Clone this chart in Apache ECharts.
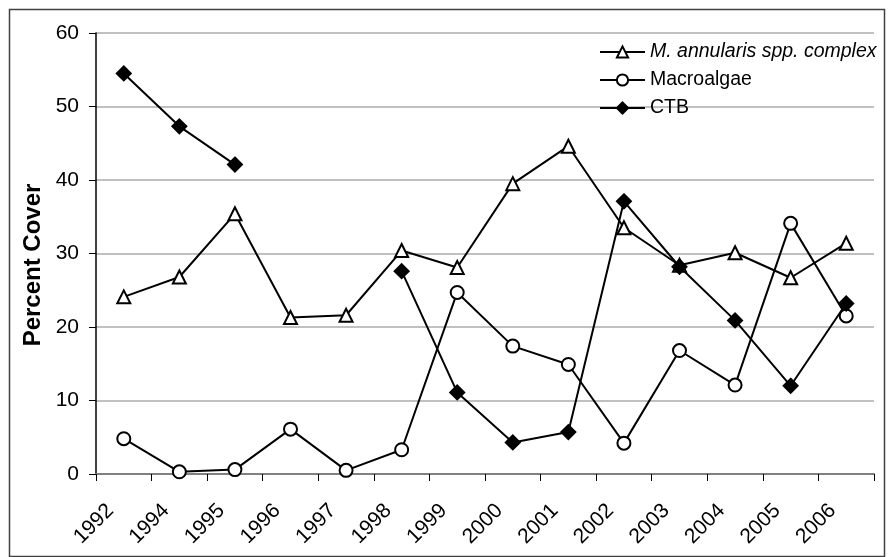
<!DOCTYPE html>
<html>
<head>
<meta charset="utf-8">
<script src="https://cdn.jsdelivr.net/npm/echarts@6/dist/echarts.min.js"></script>
<style>
html,body{margin:0;padding:0;background:#fff;}
#chart{width:890px;height:557px;}
</style>
</head>
<body>
<div id="chart"></div>
<script>
var categories = ['1992','1994','1995','1996','1997','1998','1999','2000','2001','2002','2003','2004','2005','2006'];
var mAnnularis = [24.1, 26.8, 35.4, 21.3, 21.6, 30.4, 28.1, 39.5, 44.6, 33.5, 28.4, 30.1, 26.7, 31.4];
var macroalgae = [4.8, 0.3, 0.6, 6.1, 0.5, 3.3, 24.7, 17.4, 14.9, 4.2, 16.8, 12.1, 34.1, 21.5];
var ctb = [54.5, 47.3, 42.1, null, null, 27.6, 11.1, 4.3, 5.7, 37.1, 28.2, 20.9, 12.0, 23.2];
var yTicks = [0, 10, 20, 30, 40, 50, 60];

var FONT = '"Liberation Sans", Arial, sans-serif';
var chart = echarts.init(document.getElementById('chart'), null, {renderer: 'canvas'});

function lineSeries(name, data, symbol, fill, size) {
  return {
    name: name,
    type: 'line',
    data: data,
    symbol: symbol,
    symbolSize: size,
    showAllSymbol: true,
    connectNulls: false,
    animation: false,
    lineStyle: {color: '#000', width: 2},
    itemStyle: {color: fill, borderColor: '#000', borderWidth: 2},
    emphasis: {disabled: true}
  };
}

chart.setOption({
  animation: false,
  backgroundColor: '#fff',
  textStyle: {fontFamily: FONT},
  grid: {left: 96, right: 16, top: 33, bottom: 83, containLabel: false},
  legend: {
    orient: 'vertical',
    left: 594,
    top: 37,
    itemWidth: 45,
    itemHeight: 14,
    itemGap: 8,
    textStyle: {fontFamily: FONT, fontSize: 19.5, color: '#000', lineHeight: 20},
    data: [
      {name: 'M. annularis spp. complex', textStyle: {fontStyle: 'italic'}},
      {name: 'Macroalgae'},
      {name: 'CTB'}
    ]
  },
  xAxis: {
    type: 'category',
    data: categories,
    boundaryGap: true,
    axisLine: {lineStyle: {color: '#808080', width: 2}},
    axisTick: {show: true, length: 7, lineStyle: {color: '#000', width: 1}},
    axisLabel: {
      rotate: 45,
      interval: 0,
      margin: 20,
      padding: [0, 19, 0, 0],
      fontFamily: FONT,
      fontSize: 21,
      color: '#000'
    },
    splitLine: {show: false}
  },
  yAxis: {
    type: 'value',
    min: yTicks[0],
    max: yTicks[yTicks.length - 1],
    interval: 10,
    axisLine: {show: true, lineStyle: {color: '#000', width: 1.5}},
    axisTick: {show: true, length: 7, lineStyle: {color: '#000', width: 1}},
    axisLabel: {margin: 17, fontFamily: FONT, fontSize: 21, color: '#000'},
    splitLine: {show: true, lineStyle: {color: '#c0c0c0', width: 2}}
  },
  graphic: [
    {
      type: 'rect',
      silent: true,
      shape: {x: 9.5, y: 9.5, width: 875, height: 547},
      style: {fill: 'none', stroke: '#404040', lineWidth: 1.5},
      z: -1
    },
    {
      type: 'text',
      silent: true,
      x: 33,
      y: 265,
      rotation: Math.PI / 2,
      style: {
        text: 'Percent Cover',
        fontFamily: FONT,
        fontSize: 24,
        fontWeight: 'bold',
        fill: '#000',
        align: 'center',
        verticalAlign: 'middle'
      }
    }
  ],
  series: [
    lineSeries('M. annularis spp. complex', mAnnularis, 'triangle', '#fff', 13),
    lineSeries('Macroalgae', macroalgae, 'circle', '#fff', 13),
    lineSeries('CTB', ctb, 'diamond', '#000', 14)
  ]
});
</script>
</body>
</html>
